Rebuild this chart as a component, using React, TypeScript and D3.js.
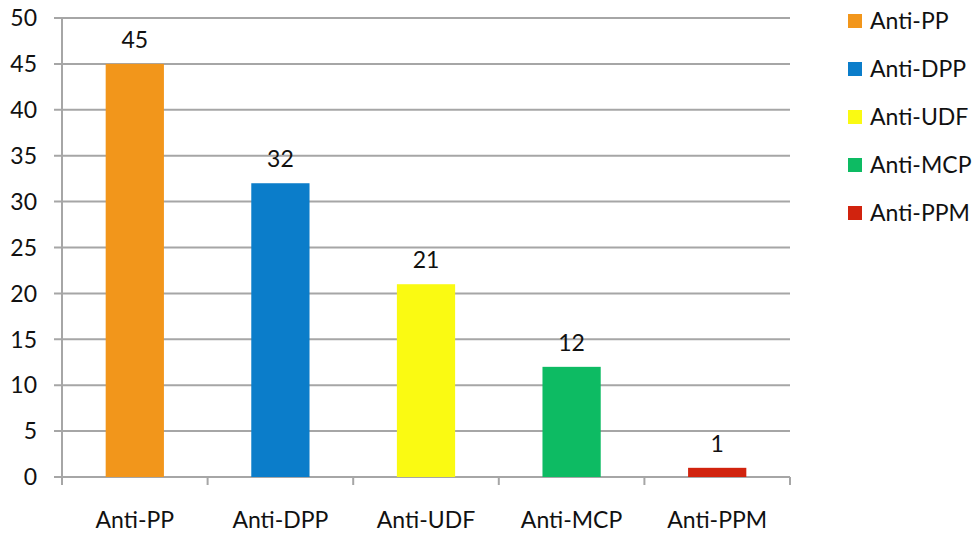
import React from "react";
import * as d3 from "d3";

const categories = ["Anti-PP", "Anti-DPP", "Anti-UDF", "Anti-MCP", "Anti-PPM"];
const values = [45, 32, 21, 12, 1];
const colors = ["#F2961B", "#0B7DCA", "#FAFA12", "#0DBB63", "#D1230E"];
const yTicks = [0, 5, 10, 15, 20, 25, 30, 35, 40, 45, 50];

const W = 975, H = 534;
const left = 62, right = 790, top = 18, bottom = 477;
const FONT = "Lato, 'Open Sans', sans-serif";

export default function App() {
  const x = d3.scaleBand<string>().domain(categories).range([left, right]).paddingInner(0.6).paddingOuter(0.3);
  const y = d3.scaleLinear().domain([0, 50]).range([bottom, top]);
  const bandEdges = d3.range(categories.length + 1).map((i) => left + (i * (right - left)) / categories.length);
  return (
    <svg width={W} height={H} style={{ position: "absolute", left: 0, top: 0, background: "#fff" }} fontFamily={FONT}>
      {yTicks.map((t) => (
        <g key={t}>
          <line x1={left - 8} x2={right} y1={y(t)} y2={y(t)} stroke="#a6a6a6" strokeWidth={2} />
          <text x={37} y={y(t)} dy="0.36em" textAnchor="end" fontSize={23} fill="#111">{t}</text>
        </g>
      ))}
      <line x1={left} x2={left} y1={top} y2={bottom} stroke="#a6a6a6" strokeWidth={2} />
      {bandEdges.map((e, i) => (
        <line key={i} x1={e} x2={e} y1={bottom} y2={bottom + 8} stroke="#a6a6a6" strokeWidth={2} />
      ))}
      {categories.map((c, i) => (
        <g key={c}>
          <rect x={x(c)} y={y(values[i])} width={x.bandwidth()} height={bottom - y(values[i])} fill={colors[i]} />
          <text x={x(c)! + x.bandwidth() / 2} y={y(values[i]) - 16} textAnchor="middle" fontSize={23} fill="#111">{values[i]}</text>
          <text x={x(c)! + x.bandwidth() / 2} y={528} textAnchor="middle" fontSize={23} fill="#111">{c}</text>
        </g>
      ))}
      {categories.map((c, i) => (
        <g key={"l" + c} transform={`translate(848, ${21 + i * 48})`}>
          <rect x={0} y={-7} width={14} height={14} fill={colors[i]} />
          <text x={22} y={0} dy="0.36em" fontSize={23} fill="#111">{c}</text>
        </g>
      ))}
    </svg>
  );
}
